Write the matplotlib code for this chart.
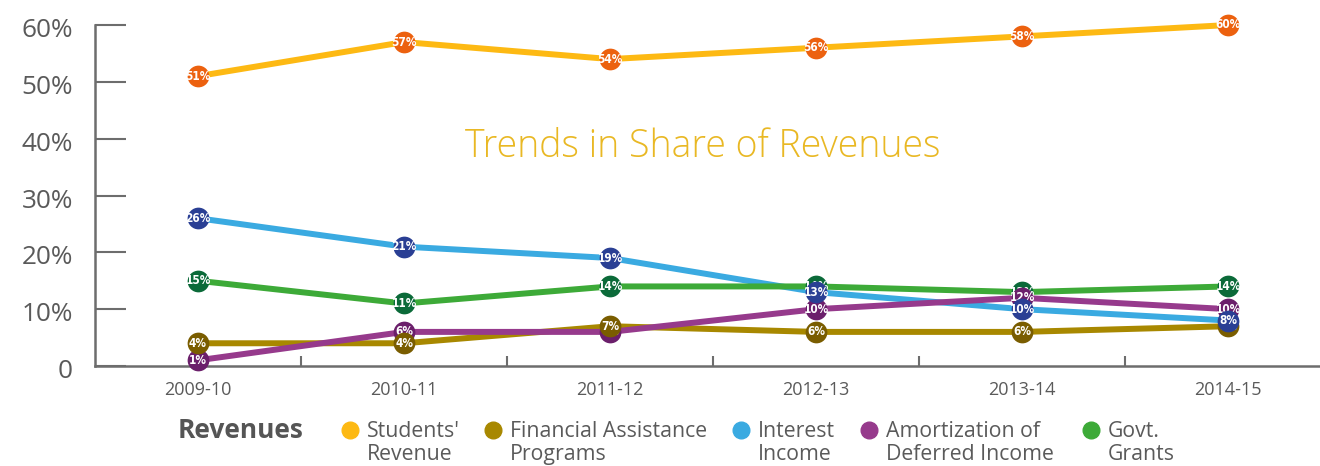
import matplotlib
matplotlib.use("Agg")
import matplotlib.pyplot as plt
from matplotlib.lines import Line2D
from matplotlib.transforms import ScaledTranslation

# ---- data ----
years = ["2009-10", "2010-11", "2011-12", "2012-13", "2013-14", "2014-15"]
students_revenue = [51, 57, 54, 56, 58, 60]
financial_assistance = [4, 4, 7, 6, 6, 7]
interest_income = [26, 21, 19, 13, 10, 8]
amortization = [1, 6, 6, 10, 12, 10]
govt_grants = [15, 11, 14, 14, 13, 14]
series_names = ["Students'\nRevenue", "Financial Assistance\nPrograms", "Interest\nIncome",
                "Amortization of\nDeferred Income", "Govt.\nGrants"]
y_ticks = [0, 10, 20, 30, 40, 50, 60]
y_tick_labels = ["0", "10%", "20%", "30%", "40%", "50%", "60%"]
title = "Trends in Share of Revenues"

series = [students_revenue, financial_assistance, interest_income, amortization, govt_grants]
line_colors = ["#FDB913", "#A88800", "#3AAAE1", "#963A8C", "#3DAA38"]
marker_colors = ["#EC610F", "#7A5D00", "#2A3F94", "#6B1F6B", "#0B6A39"]
marker_z = [10, 8, 9, 7, 6]

plt.rcParams['font.family'] = ['Open Sans', 'DejaVu Sans']
fig = plt.figure(figsize=(13.2, 4.66), dpi=100)
ax = fig.add_axes([95/1320, 100/466, 1 - 95/1320, 341/466])
x = list(range(len(years)))
ax.set_xlim(-0.5, 5.445)
ax.set_ylim(0, 60)

for vals, lc in zip(series, line_colors):
    ax.plot(x, vals, color=lc, lw=4.3, solid_capstyle='butt', zorder=2, clip_on=False)
for vals, mc, z in zip(series, marker_colors, marker_z):
    ax.scatter(x, vals, s=245, color=mc, zorder=z, clip_on=False, linewidths=0)
    for xi, v in zip(x, vals):
        ax.text(xi, v, f"{v}%", color="white", fontsize=8.5, fontweight='bold',
                ha='center', va='center', zorder=z + 0.5, family=['DejaVu Sans'],
                fontstretch='condensed')

# spines
for s in ['top', 'right']:
    ax.spines[s].set_visible(False)
for s in ['left', 'bottom']:
    ax.spines[s].set_color('#6d6d6d')
    ax.spines[s].set_linewidth(1.8)

ax.set_yticks(y_ticks)
ax.set_yticklabels(y_tick_labels)
ax.tick_params(axis='y', direction='in', length=22, width=1.5, color='#6d6d6d',
               labelsize=18.8, labelcolor='#5a5a5a', pad=16)
down = ScaledTranslation(0, -2.5/100, fig.dpi_scale_trans)
for lab in ax.get_yticklabels():
    lab.set_transform(lab.get_transform() + down)
ax.set_xticks(x)
ax.set_xticklabels(years)
ax.tick_params(axis='x', which='major', length=0, labelsize=13, labelcolor='#5a5a5a', pad=11)
ax.set_xticks([i + 0.5 for i in range(len(years) - 1)], minor=True)
ax.tick_params(axis='x', which='minor', direction='in', length=7, width=1.5, color='#6d6d6d')

fig.text(703/1320, 1 - 147/466, title, color="#E9B824", fontsize=27, fontweight='light',
         ha='center', va='center')

# legend (manual)
fig.text(178/1320, 1 - 431/466, "Revenues", fontsize=19, fontweight='bold', color='#555555',
         ha='left', va='center')
marker_x = [350, 493, 741, 869, 1091]
for mx, name, lc in zip(marker_x, series_names, line_colors):
    fig.add_artist(Line2D([mx/1320], [1 - 430/466], marker='o', markersize=12, color=lc,
                          transform=fig.transFigure, linestyle='none'))
    fig.text((mx + 17)/1320, 1 - 421/466, name, fontsize=15.3, color='#5a5a5a',
             ha='left', va='top', linespacing=1.1)

fig.savefig("out.png", dpi=100)
